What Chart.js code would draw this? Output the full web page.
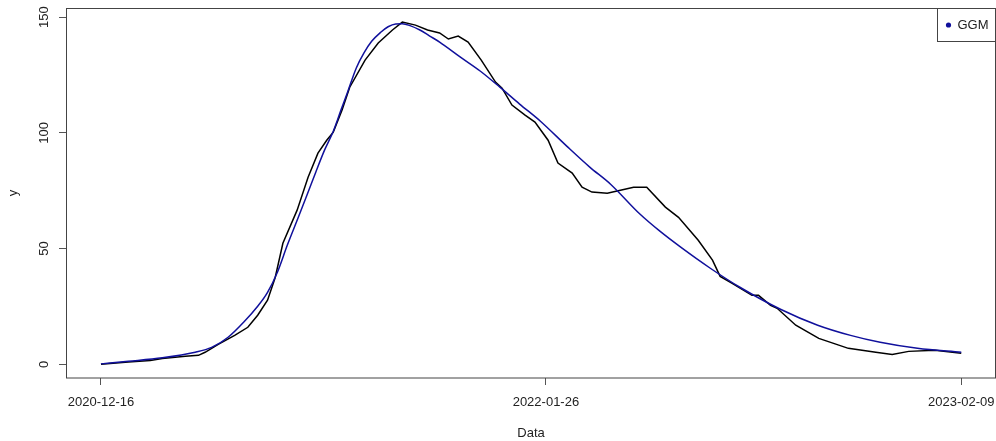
<!DOCTYPE html>
<html>
<head>
<meta charset="utf-8">
<title>GGM</title>
<script src="https://cdn.jsdelivr.net/npm/chart.js@4/dist/chart.umd.min.js"></script>
<style>
  html, body { margin: 0; padding: 0; background: #fff; }
  canvas { display: block; }
</style>
</head>
<body>
<canvas id="chart" width="996" height="441"></canvas>
<script>
// observed series, x = days since 2020-12-16
const obsDays = [0, 25, 45, 56, 77, 89, 95, 107, 122, 134, 143, 152, 159, 166, 179, 189, 198, 206, 212, 220,
  227, 241, 253, 266, 275, 287, 298, 309, 317, 326, 335, 347, 360, 366, 375, 387, 396, 408, 417, 430,
  439, 448, 462, 474, 486, 498, 515, 527, 545, 558, 565, 576, 594, 600, 611, 617, 634, 655, 682, 707,
  722, 737, 761, 785];
const obsValues = [0, 1.0, 1.7, 2.5, 3.5, 3.9, 5.2, 8.6, 12.5, 16.0, 21.2, 27.7, 37.5, 52.3, 66.6, 80.8, 91.2, 96.8, 100.3, 109.8,
  119.7, 131.4, 138.8, 144.4, 147.8, 146.5, 144.4, 143.1, 140.5, 141.8, 139.2, 131.4, 121.9, 119.3, 112.0, 107.6, 104.6, 96.8, 86.9, 82.6,
  76.5, 74.4, 73.9, 75.2, 76.5, 76.5, 67.9, 63.5, 53.6, 45.0, 38.0, 35.0, 29.8, 29.8, 25.5, 24.2, 16.9, 11.2, 6.9, 5.2,
  4.3, 5.6, 6.1, 4.8];

// fitted GGM curve
const fitDays = [0, 25, 56, 86, 101, 116, 131, 143, 152, 161, 170, 179, 188, 196, 204, 212, 219, 225, 233, 240,
  247, 255, 262, 269, 275, 282, 291, 300, 309, 328, 346, 364, 382, 401, 426, 446, 465, 492, 510, 529,
  556, 583, 620, 654, 684, 711, 745, 785];
const fitValues = [0.2, 1.3, 2.8, 5.2, 7.3, 11.7, 18.6, 25.1, 31.1, 39.8, 51.4, 62.2, 73.1, 83.0, 92.5, 100.7, 109.8, 117.5, 128.0, 134.5,
  139.5, 143.3, 145.8, 147.0, 147.1, 146.3, 144.4, 141.8, 139.2, 132.7, 126.7, 119.7, 112.4, 105.0, 93.8, 85.2, 77.8, 64.8, 57.5, 50.6,
  41.5, 33.3, 23.8, 16.9, 12.5, 9.5, 6.9, 5.2];

const xTickDays = [0, 406, 785];
const xTickLabels = ['2020-12-16', '2022-01-26', '2023-02-09'];
const yTicks = [0, 50, 100, 150];

const FONT = "'Liberation Sans', Arial, sans-serif";
const TEXT = '#222';
const AXIS = '#555';
const font = { family: FONT, size: 13 };

const pairs = (xs, ys) => xs.map((x, i) => ({ x: x, y: ys[i] }));

// plot frame (R's box())
const frame = {
  id: 'frame',
  afterDraw(chart) {
    const { ctx, chartArea: a } = chart;
    ctx.save();
    ctx.strokeStyle = '#444';
    ctx.lineWidth = 1;
    ctx.strokeRect(a.left + 0.5, a.top + 0.5, a.right - a.left - 1, a.bottom - a.top - 0.5);
    ctx.restore();
  }
};

// legend box in the top right corner, only the fitted curve is listed
const cornerLegend = {
  id: 'cornerLegend',
  afterDraw(chart) {
    const { ctx, chartArea: a } = chart;
    const ds = chart.data.datasets.find(d => d.showInLegend);
    const w = 58, h = 33;
    const x0 = a.right - w - 0.5, y0 = a.top + 0.5;
    ctx.save();
    ctx.fillStyle = '#fff';
    ctx.fillRect(x0, y0, w, h);
    ctx.strokeStyle = '#444';
    ctx.lineWidth = 1;
    ctx.strokeRect(x0, y0, w, h);
    ctx.fillStyle = ds.borderColor;
    ctx.beginPath();
    ctx.arc(x0 + 11, y0 + h / 2, 2.6, 0, Math.PI * 2);
    ctx.fill();
    ctx.fillStyle = TEXT;
    ctx.font = '13px ' + FONT;
    ctx.textBaseline = 'middle';
    ctx.fillText(ds.label, x0 + 20, y0 + h / 2 + 0.5);
    ctx.restore();
  }
};

new Chart(document.getElementById('chart'), {
  type: 'line',
  data: {
    datasets: [
      {
        label: 'y',
        data: pairs(obsDays, obsValues),
        borderColor: '#000',
        borderWidth: 1.5,
        pointRadius: 0,
        tension: 0,
        order: 1
      },
      {
        label: 'GGM',
        showInLegend: true,
        data: pairs(fitDays, fitValues),
        borderColor: '#10109c',
        borderWidth: 1.5,
        pointRadius: 0,
        cubicInterpolationMode: 'monotone',
        order: 0
      }
    ]
  },
  options: {
    responsive: false,
    animation: false,
    parsing: false,
    layout: { padding: { top: 8, right: 0, bottom: 0, left: 0 } },
    plugins: { legend: { display: false }, tooltip: { enabled: false } },
    scales: {
      x: {
        type: 'linear',
        min: -31.9,
        max: 816.7,
        afterBuildTicks: s => { s.ticks = xTickDays.map(v => ({ value: v })); },
        afterFit: s => { s.height = 63; s.paddingLeft = 0; s.paddingRight = 0; },
        ticks: {
          autoSkip: false,
          maxRotation: 0,
          padding: 10,
          font: font,
          color: TEXT,
          callback: (v, i) => xTickLabels[i]
        },
        grid: { drawOnChartArea: false, tickLength: 7, color: AXIS },
        border: { display: false },
        title: { display: true, text: 'Data', font: font, color: TEXT, padding: { top: 0, bottom: 0 } }
      },
      y: {
        type: 'linear',
        min: -5.9,
        max: 153.9,
        afterBuildTicks: s => { s.ticks = yTicks.map(v => ({ value: v })); },
        afterFit: s => { s.width = 66; s.paddingTop = 0; s.paddingBottom = 0; },
        ticks: {
          minRotation: 90,
          maxRotation: 90,
          crossAlign: 'center',
          padding: 4,
          font: font,
          color: TEXT
        },
        grid: { drawOnChartArea: false, tickLength: 7, color: AXIS },
        border: { display: false },
        title: { display: true, text: 'y', font: font, color: TEXT, padding: { top: 6, bottom: 0 } }
      }
    }
  },
  plugins: [frame, cornerLegend]
});
</script>
</body>
</html>
